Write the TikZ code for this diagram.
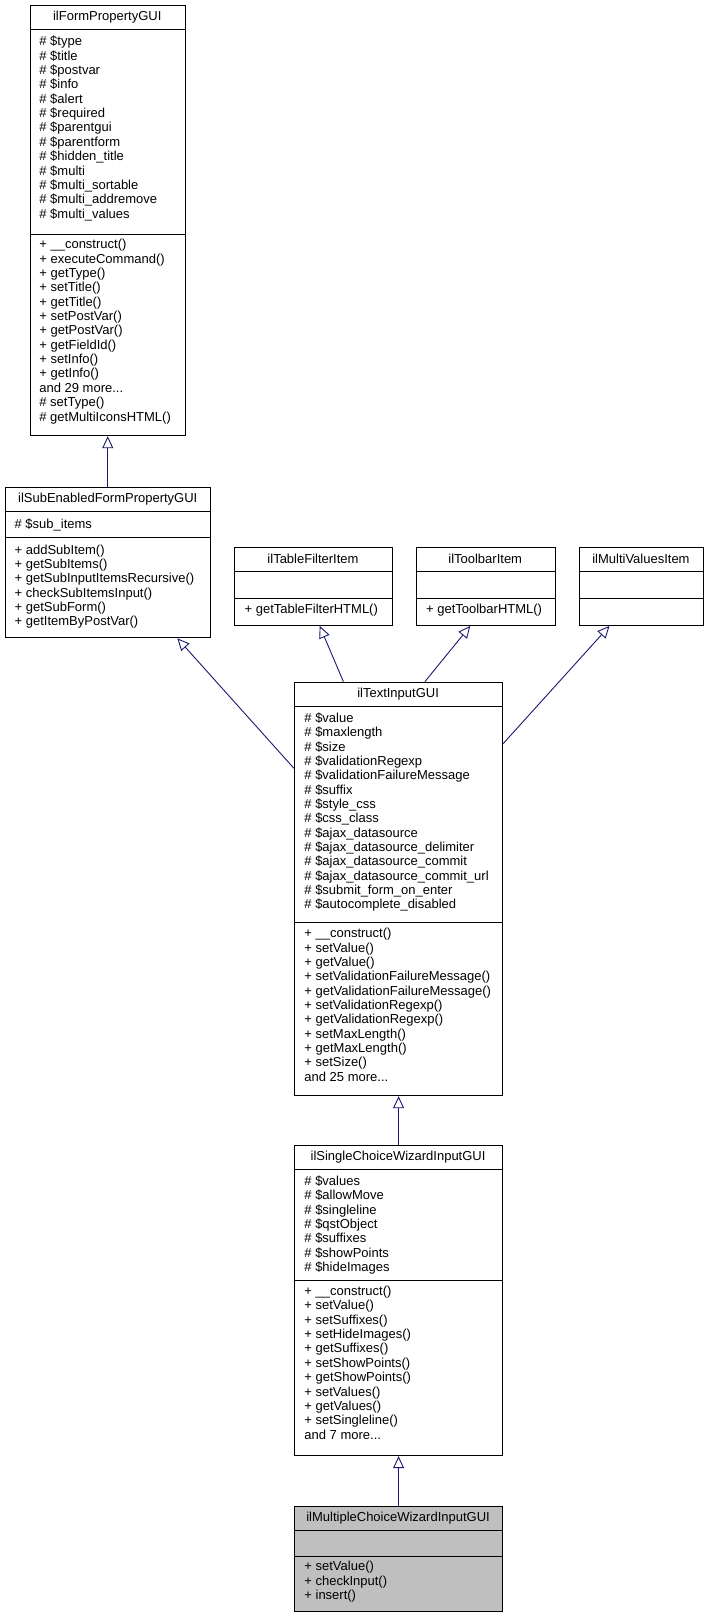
\documentclass[tikz,border=0pt]{standalone}
\usepackage{fontspec}
\setmainfont{Liberation Sans}
\usetikzlibrary{arrows.meta,calc}
\definecolor{edge}{HTML}{191970}
\begin{document}
\begin{tikzpicture}[x=1.0313pt,y=-1.0313pt,
  box/.style={draw,line width=1pt,anchor=north west,inner sep=0},
  sep/.style={line width=1pt},
  txt/.style={anchor=north west,inner sep=0,align=left,font=\fontsize{13}{14.35}\selectfont,yshift=-2pt},
  ttl/.style={anchor=center,inner sep=0,font=\fontsize{13}{14}\selectfont},
  inh/.style={draw=edge,line width=0.9pt,-{Triangle[open,length=12pt,width=11pt,fill=white]}}]
\useasboundingbox (0,0) rectangle (684.6,1567);
\newcommand\mkbox[7]{% name x1 y1 x2 y2 fill title
  \node[box,fill=#6,minimum width={(#4-#2)*1.0313pt},minimum height={(#5-#3)*1.0313pt}] (#1) at (#2,#3) {};
  \node[ttl] (#1t) at ({(#2+#4)/2},#3+12) {#7};}
% ilFormPropertyGUI
\mkbox{fp}{29}{5}{179}{422}{white}{ilFormPropertyGUI}
\draw[sep] (29,29)--(179,29) (29,227)--(179,227);
\node[txt] (fpa) at (38,33) {\# \$type\\\# \$title\\\# \$postvar\\\# \$info\\\# \$alert\\\# \$required\\\# \$parentgui\\\# \$parentform\\\# \$hidden\_title\\\# \$multi\\\# \$multi\_sortable\\\# \$multi\_addremove\\\# \$multi\_values};
\node[txt] (fpm) at (38,230) {+ \_\_construct()\\+ executeCommand()\\+ getType()\\+ setTitle()\\+ getTitle()\\+ setPostVar()\\+ getPostVar()\\+ getFieldId()\\+ setInfo()\\+ getInfo()\\and 29 more...\\\# setType()\\\# getMultiIconsHTML()};
% ilSubEnabledFormPropertyGUI
\mkbox{se}{5}{472}{204}{618}{white}{ilSubEnabledFormPropertyGUI}
\draw[sep] (5,496)--(204,496) (5,521)--(204,521);
\node[txt] (sea) at (14,501) {\# \$sub\_items};
\node[txt] (sem) at (14,526) {+ addSubItem()\\+ getSubItems()\\+ getSubInputItemsRecursive()\\+ checkSubItemsInput()\\+ getSubForm()\\+ getItemByPostVar()};
% small boxes
\mkbox{tf}{227}{530}{380}{606}{white}{ilTableFilterItem}
\draw[sep] (227,554)--(380,554) (227,580)--(380,580);
\node[txt] (tfm) at (237,584) {+ getTableFilterHTML()};
\mkbox{tb}{403}{530}{538}{606}{white}{ilToolbarItem}
\draw[sep] (403,554)--(538,554) (403,580)--(538,580);
\node[txt] (tbm) at (413,584) {+ getToolbarHTML()};
\mkbox{mv}{561}{530}{682}{606}{white}{ilMultiValuesItem}
\draw[sep] (561,554)--(682,554) (561,580)--(682,580);
% ilTextInputGUI
\mkbox{ti}{285}{661}{487}{1062}{white}{ilTextInputGUI}
\draw[sep] (285,685)--(487,685) (285,895)--(487,895);
\node[txt] (tia) at (295,689) {\# \$value\\\# \$maxlength\\\# \$size\\\# \$validationRegexp\\\# \$validationFailureMessage\\\# \$suffix\\\# \$style\_css\\\# \$css\_class\\\# \$ajax\_datasource\\\# \$ajax\_datasource\_delimiter\\\# \$ajax\_datasource\_commit\\\# \$ajax\_datasource\_commit\_url\\\# \$submit\_form\_on\_enter\\\# \$autocomplete\_disabled};
\node[txt] (tim) at (295,898) {+ \_\_construct()\\+ setValue()\\+ getValue()\\+ setValidationFailureMessage()\\+ getValidationFailureMessage()\\+ setValidationRegexp()\\+ getValidationRegexp()\\+ setMaxLength()\\+ getMaxLength()\\+ setSize()\\and 25 more...};
% ilSingleChoiceWizardInputGUI
\mkbox{sc}{285}{1110}{487}{1411}{white}{ilSingleChoiceWizardInputGUI}
\draw[sep] (285,1134)--(487,1134) (285,1242)--(487,1242);
\node[txt] (sca) at (295,1138) {\# \$values\\\# \$allowMove\\\# \$singleline\\\# \$qstObject\\\# \$suffixes\\\# \$showPoints\\\# \$hideImages};
\node[txt] (scm) at (295,1245) {+ \_\_construct()\\+ setValue()\\+ setSuffixes()\\+ setHideImages()\\+ getSuffixes()\\+ setShowPoints()\\+ getShowPoints()\\+ setValues()\\+ getValues()\\+ setSingleline()\\and 7 more...};
% ilMultipleChoiceWizardInputGUI
\mkbox{mc}{285}{1460}{487}{1562}{black!25}{ilMultipleChoiceWizardInputGUI}
\draw[sep] (285,1484)--(487,1484) (285,1509)--(487,1509);
\node[txt] (mcm) at (295,1512) {+ setValue()\\+ checkInput()\\+ insert()};
% inheritance
\draw[inh] (se.north -| fp.south) -- (fp.south);
\draw[inh] ($(ti.north west)+(0,84)$) -- ($(se.south west)+(167,0)$);
\draw[inh] ($(ti.north west)+(48,0)$) -- ($(tf.south west)+(83,0)$);
\draw[inh] ($(ti.north west)+(127,0)$) -- ($(tb.south west)+(53,0)$);
\draw[inh] ($(ti.north east)+(0,60)$) -- ($(mv.south west)+(30,0)$);
\draw[inh] (ti.south |- sc.north) -- (ti.south);
\draw[inh] (sc.south |- mc.north) -- (sc.south);
\end{tikzpicture}
\end{document}
